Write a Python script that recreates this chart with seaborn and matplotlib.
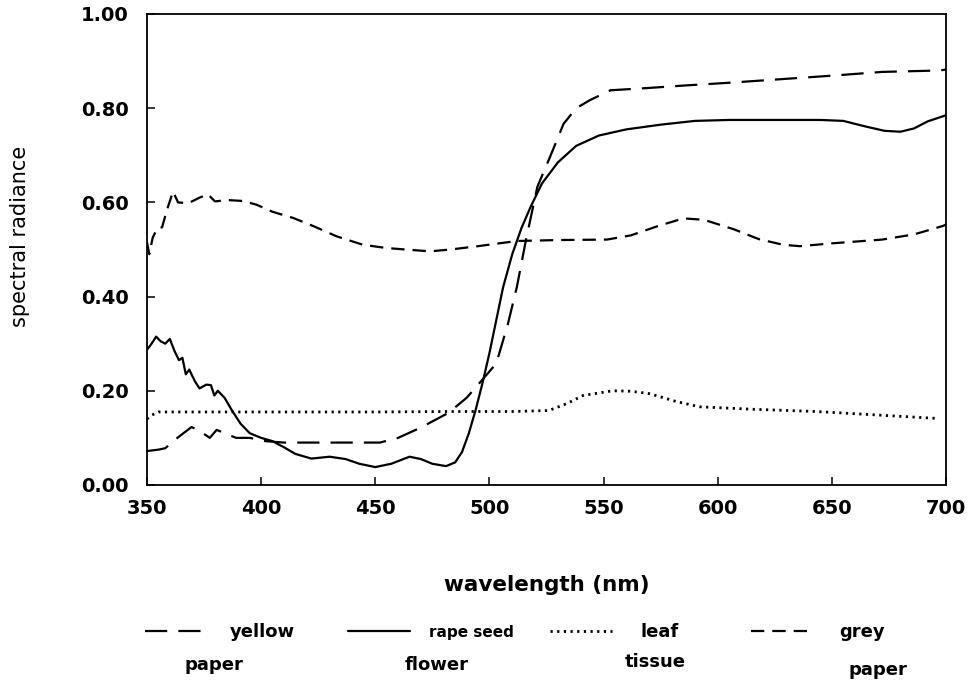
import numpy as np
import pandas as pd
import matplotlib
matplotlib.use('Agg')
import matplotlib.pyplot as plt
from matplotlib.lines import Line2D
import seaborn as sns

# ─────────────────────────────────────────
# DATA
# ─────────────────────────────────────────
yellow_wl = [350, 355, 358, 362, 366, 369.5, 373, 377.5, 380.5, 384, 389, 395, 402, 410,
             430, 452, 460, 470, 482, 490, 497, 503, 508, 512, 516, 521, 526.5, 532.5,
             538, 544, 553, 570, 585, 605, 629, 650, 672, 697, 700]
yellow_val = [0.072, 0.075, 0.078, 0.095, 0.110, 0.123, 0.115, 0.100, 0.117, 0.110, 0.100,
              0.100, 0.093, 0.090, 0.090, 0.090, 0.100, 0.122, 0.153, 0.185, 0.224, 0.258,
              0.340, 0.420, 0.520, 0.633, 0.696, 0.767, 0.800, 0.817, 0.838, 0.843, 0.848,
              0.854, 0.862, 0.869, 0.877, 0.880, 0.882]

rape_wl = [350, 352, 354, 356, 358, 360, 362, 364, 365.5, 367, 368.5, 371, 373, 376, 378,
           379.5, 381, 384, 387, 391, 395, 400, 405, 410, 415, 422, 430, 437, 443, 450,
           457, 465, 470, 475, 481, 485, 488, 491, 494, 497, 500, 503, 506, 510, 514, 518,
           523, 530, 538, 548, 560, 575, 590, 605, 625, 645, 655, 664, 673, 680, 686, 692,
           700]
rape_val = [0.287, 0.300, 0.315, 0.305, 0.300, 0.310, 0.285, 0.265, 0.270, 0.235, 0.245,
            0.220, 0.205, 0.213, 0.212, 0.190, 0.200, 0.185, 0.160, 0.130, 0.110, 0.100,
            0.093, 0.080, 0.066, 0.056, 0.060, 0.055, 0.045, 0.038, 0.045, 0.060, 0.055,
            0.045, 0.040, 0.048, 0.070, 0.110, 0.160, 0.217, 0.280, 0.350, 0.420, 0.490,
            0.545, 0.590, 0.640, 0.685, 0.720, 0.742, 0.755, 0.765, 0.773, 0.775, 0.775,
            0.775, 0.773, 0.762, 0.752, 0.750, 0.757, 0.772, 0.785]

leaf_wl = [350, 352, 355, 400, 450, 483, 510, 526, 534, 541, 554, 562, 570, 582, 592,
           614, 643, 672, 697]
leaf_val = [0.140, 0.148, 0.155, 0.155, 0.155, 0.156, 0.156, 0.158, 0.173, 0.190, 0.200,
            0.199, 0.194, 0.177, 0.166, 0.161, 0.156, 0.148, 0.141]

grey_wl = [350, 351, 352.5, 354.5, 356.6, 358.8, 361.4, 363.6, 368, 373, 376.7, 379.8,
           385, 392, 398, 405, 414, 422.7, 433, 444.6, 455, 474, 483, 495, 512, 530,
           551.5, 562, 574, 585, 594, 607, 618, 628.6, 636, 650, 672, 686, 698.7, 700]
grey_val = [0.515, 0.490, 0.525, 0.545, 0.547, 0.585, 0.623, 0.600, 0.598, 0.610, 0.617,
            0.602, 0.605, 0.603, 0.595, 0.580, 0.567, 0.550, 0.528, 0.510, 0.503, 0.496,
            0.500, 0.507, 0.518, 0.520, 0.521, 0.530, 0.550, 0.566, 0.563, 0.543, 0.522,
            0.510, 0.507, 0.513, 0.521, 0.532, 0.550, 0.553]

legend_top = ['yellow', 'rape seed', 'leaf', 'grey']
legend_bottom = ['paper', 'flower', 'tissue', 'paper']

x_ticks = [350, 400, 450, 500, 550, 600, 650, 700]
y_ticks = [0.0, 0.2, 0.4, 0.6, 0.8, 1.0]

# line styles: (dash pattern, width)
STYLES = [
    ((0, (10, 5)), 1.6),     # yellow paper - long dash
    ('-', 1.6),              # rape seed flower - solid
    ((0, (0.8, 1.6)), 2.0),  # leaf tissue - dotted
    ((0, (6, 3.6)), 1.6),    # grey paper - short dash
]

# ─────────────────────────────────────────
# PLOT
# ─────────────────────────────────────────
sns.set_style('ticks')
plt.rcParams['font.family'] = ['DejaVu Sans']
plt.rcParams['text.color'] = 'black'
plt.rcParams['axes.labelcolor'] = 'black'
plt.rcParams['xtick.color'] = 'black'
plt.rcParams['ytick.color'] = 'black'

fig = plt.figure(figsize=(9.8, 6.82), dpi=100)
ax = fig.add_axes([0.15, 0.2889, 0.8153, 0.6906])

series = [(yellow_wl, yellow_val), (rape_wl, rape_val),
          (leaf_wl, leaf_val), (grey_wl, grey_val)]
for (wl, val), (ls, lw) in zip(series, STYLES):
    df = pd.DataFrame({'wl': wl, 'val': val})
    sns.lineplot(data=df, x='wl', y='val', ax=ax, color='black',
                 linestyle=ls, linewidth=lw, estimator=None)

ax.set_xlim(350, 700)
ax.set_ylim(0, 1.0)
ax.set_xticks(x_ticks)
ax.set_yticks(y_ticks)
ax.set_xticklabels([str(t) for t in x_ticks], fontsize=14, fontweight='bold')
ax.set_yticklabels([f'{t:.2f}' for t in y_ticks], fontsize=14, fontweight='bold')
ax.tick_params(axis='both', direction='in', length=6, width=1.1,
               color='black', labelcolor='black')
ax.tick_params(axis='x', pad=10)
ax.tick_params(axis='y', pad=13)
for sp in ax.spines.values():
    sp.set_visible(True)
    sp.set_linewidth(1.3)
    sp.set_color('black')

ax.set_xlabel('wavelength (nm)', fontsize=15.5, fontweight='bold', va='center',
              color='black')
ax.xaxis.set_label_coords(0.5, -0.213)
ax.set_ylabel('spectral radiance', fontsize=15, va='center', color='black')
ax.yaxis.set_label_coords(-0.159, 0.527)

# legend: one small legend per entry so the spacing follows the scan
W, H = 980.0, 682.0
entry_x = [145, 348, 550, 751]
entry_size = [13, 11, 13, 13]
entry_pad = [23, 19, 28, 26]
for i, (ls, lw) in enumerate(STYLES):
    px = entry_size[i] * 100 / 72.0
    h = Line2D([], [], color='black', linestyle=ls, linewidth=lw)
    leg = fig.legend([h], [legend_top[i]], loc='center left',
                     bbox_to_anchor=(entry_x[i] / W, 1 - 632 / H),
                     frameon=False, borderpad=0, borderaxespad=0,
                     handlelength=62 / px, handletextpad=entry_pad[i] / px,
                     prop={'size': entry_size[i], 'weight': 'bold'})
    for t in leg.get_texts():
        t.set_color('black')

bottom_x = [185, 405, 625, 848]
bottom_y = [665, 665, 662, 670]
for txt, bx, by in zip(legend_bottom, bottom_x, bottom_y):
    fig.text(bx / W, 1 - by / H, txt, ha='left', va='center',
             fontsize=13, fontweight='bold', color='black')

fig.savefig('out.png', dpi=100)
